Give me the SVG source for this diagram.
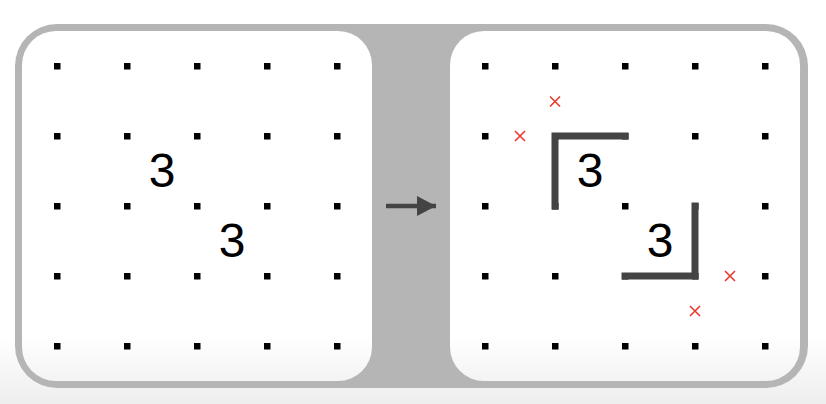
<svg xmlns="http://www.w3.org/2000/svg" width="826" height="404" viewBox="0 0 826 404">
<defs>
<style>
.dot{fill:#000}
.num{font-family:"Liberation Sans",Arial,sans-serif;font-size:48px;fill:#000;text-anchor:middle}
.wall{fill:none;stroke:#444;stroke-width:7;stroke-linecap:square;stroke-linejoin:miter}
.cross{stroke:#e8392b;stroke-width:1.6;fill:none}
.panel{fill:url(#fade)}
</style>
<marker id="ah" markerUnits="userSpaceOnUse" markerWidth="20" markerHeight="20" refX="19" refY="10" orient="auto">
<path d="M0,0 L19,10 L0,20 Z" fill="#444"/>
</marker>
<linearGradient id="fade" gradientUnits="userSpaceOnUse" x1="0" y1="335" x2="0" y2="404">
<stop offset="0" stop-color="#fff"/>
<stop offset="1" stop-color="#eeeeee"/>
</linearGradient>
<g id="dots5">
<rect class="dot" x="-3" y="-3" width="6.5" height="6.5"/>
<rect class="dot" x="67" y="-3" width="6.5" height="6.5"/>
<rect class="dot" x="137" y="-3" width="6.5" height="6.5"/>
<rect class="dot" x="207" y="-3" width="6.5" height="6.5"/>
<rect class="dot" x="277" y="-3" width="6.5" height="6.5"/>
</g>
</defs>
<rect width="826" height="404" fill="url(#fade)"/>
<rect id="frame" x="15" y="24" width="793" height="364" rx="42" ry="42" fill="#b5b5b5"/>
<g id="panel-left">
<rect class="panel" x="22" y="31" width="350" height="350" rx="34" ry="34"/>
<use href="#dots5" x="57" y="66"/>
<use href="#dots5" x="57" y="136"/>
<use href="#dots5" x="57" y="206"/>
<use href="#dots5" x="57" y="276"/>
<use href="#dots5" x="57" y="346"/>
<text class="num" x="162" y="187">3</text>
<text class="num" x="232" y="257">3</text>
</g>
<g id="panel-right">
<rect class="panel" x="450" y="31" width="350" height="350" rx="34" ry="34"/>
<use href="#dots5" x="485" y="66"/>
<use href="#dots5" x="485" y="136"/>
<use href="#dots5" x="485" y="206"/>
<use href="#dots5" x="485" y="276"/>
<use href="#dots5" x="485" y="346"/>
<text class="num" x="590" y="187">3</text>
<text class="num" x="660" y="257">3</text>
<path class="wall" d="M555,206 L555,136 L625,136"/>
<path class="wall" d="M695,206 L695,276 L625,276"/>
<path class="cross" d="M550,96.5 L560,106.5 M560,96.5 L550,106.5"/>
<path class="cross" d="M515,131 L525,141 M525,131 L515,141"/>
<path class="cross" d="M725,271 L735,281 M735,271 L725,281"/>
<path class="cross" d="M690,306 L700,316 M700,306 L690,316"/>
</g>
<g id="connectors">
<line x1="386" y1="206" x2="436" y2="206" stroke="#444" stroke-width="4.5" marker-end="url(#ah)"/>
</g>
</svg>
